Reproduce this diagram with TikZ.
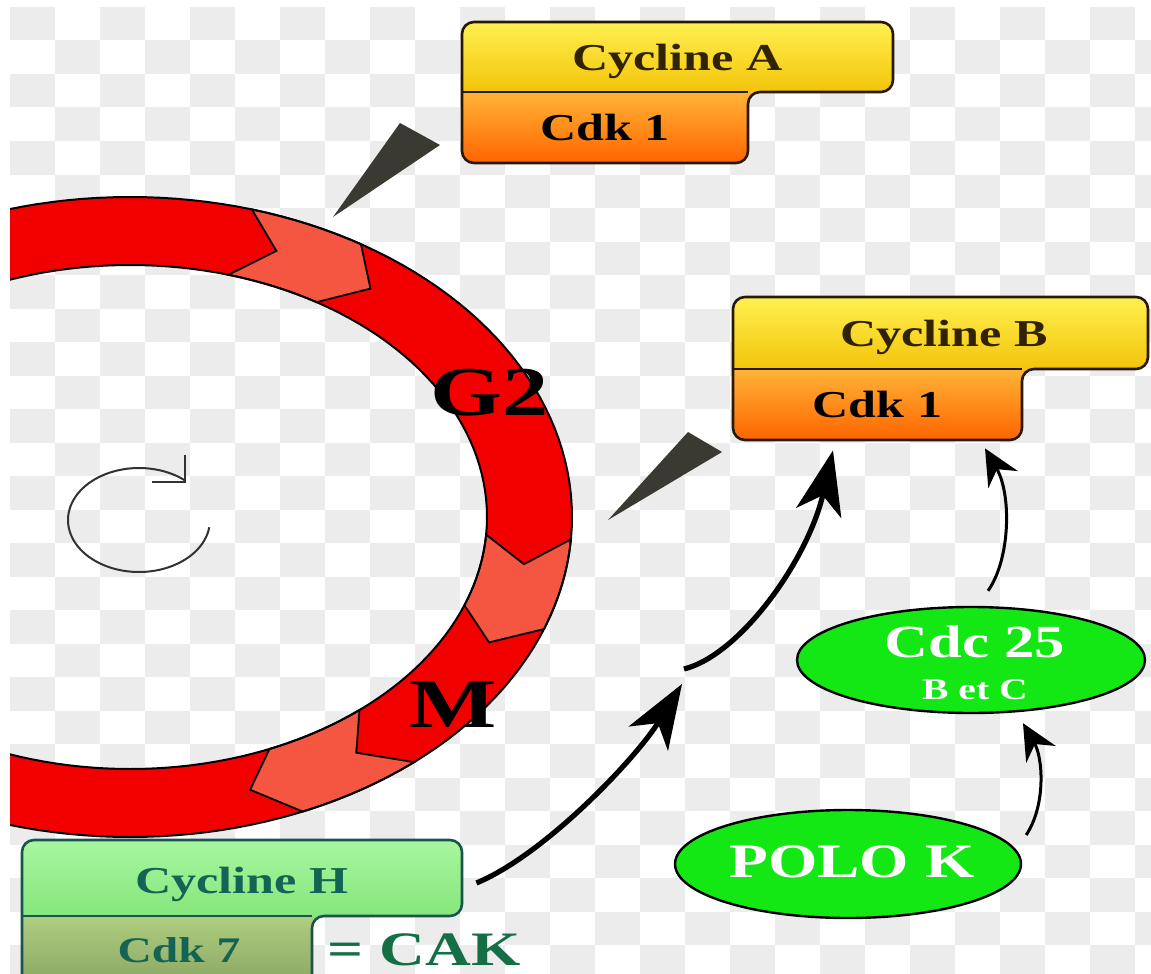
\documentclass[tikz,border=0pt]{standalone}
\usepackage{fontspec}
\usetikzlibrary{arrows.meta,shapes.geometric,calc}
\newfontfamily\wf[FakeStretch=1.32]{Liberation Serif}
\definecolor{ringred}{RGB}{242,0,0}
\definecolor{seglight}{RGB}{244,86,66}
\definecolor{checkgray}{RGB}{236,236,236}
\definecolor{yelTop}{RGB}{255,240,80}
\definecolor{yelBot}{RGB}{243,196,10}
\definecolor{orTop}{RGB}{255,180,55}
\definecolor{orBot}{RGB}{255,100,0}
\definecolor{boxline}{RGB}{40,25,5}
\definecolor{wedgecol}{RGB}{58,58,50}
\definecolor{hTop}{RGB}{168,246,160}
\definecolor{hBot}{RGB}{134,230,124}
\definecolor{kTop}{RGB}{176,206,128}
\definecolor{kBot}{RGB}{128,158,90}
\definecolor{hline}{RGB}{25,85,75}
\definecolor{htext}{RGB}{20,100,85}
\definecolor{caktext}{RGB}{20,110,70}
\definecolor{polygreen}{RGB}{20,232,20}
\definecolor{rotgray}{RGB}{50,50,50}
\definecolor{atext}{RGB}{50,35,0}
\newcommand\lightseg[2]{%
  \filldraw[fill=seglight, draw=black, line width=0.9pt]
    plot[domain=#1:#2, samples=15] ({130+442*cos(\x)},{517-320*sin(\x)})
    -- ({130+399.5*cos(#2-5.5)},{517-286*sin(#2-5.5)})
    -- plot[domain=#2:#1, samples=15] ({130+357*cos(\x)},{517-252*sin(\x)})
    -- ({130+399.5*cos(#1-5.5)},{517-286*sin(#1-5.5)}) -- cycle;}
\begin{document}
\begin{tikzpicture}[x=0.5pt,y=-0.5pt,
  lbl/.style={inner sep=0, text depth=0pt, font=\wf\bfseries\fontsize{19}{19}\selectfont},
  boxedge/.style={draw=boxline, line width=1.3pt},
  bigarrow/.style={line width=2.6pt, -{Stealth[length=32pt,width=23pt,inset=9pt]}},
  thinarrow/.style={line width=1.5pt, -{Stealth[length=18pt,width=17pt,inset=6pt]}},
  greenell/.style={ellipse, draw=black, line width=1.2pt, fill=polygreen, inner sep=0},
  whitetxt/.style={text=white, inner sep=0, text depth=0pt},
  phase/.style={inner sep=0, font=\wf\bfseries\fontsize{35}{35}\selectfont}]
\useasboundingbox (0,0) rectangle (1151,974);
\fill[white] (0,0) rectangle (1151,974);
% checkerboard background
\foreach \i in {0,2,...,24}{\foreach \j in {0,2,...,28}{
  \fill[checkgray] ({10+45*\i},{7+33.5*\j}) rectangle +(45,33.5);
  \fill[checkgray] ({10+45*(\i+1)},{7+33.5*(\j+1)}) rectangle +(45,33.5);}}
% ring
\begin{scope}
\clip (10,7) rectangle (1151,974);
\fill[ringred, even odd rule]
  plot[domain=0:360, samples=181] ({130+442*cos(\x)},{517-320*sin(\x)}) -- cycle
  plot[domain=0:360, samples=181] ({130+357*cos(\x)},{517-252*sin(\x)}) -- cycle;
\lightseg{74}{58.5}
\lightseg{-4}{-20.5}
\lightseg{-50}{-67}
\draw[line width=1pt] plot[domain=0:360, samples=181] ({130+442*cos(\x)},{517-320*sin(\x)}) -- cycle;
\draw[line width=1pt] plot[domain=0:360, samples=181] ({130+357*cos(\x)},{517-252*sin(\x)}) -- cycle;
\end{scope}
% rotation symbol
\draw[rotgray, line width=1pt] plot[domain=-8:-310, samples=80] ({139+71*cos(\x)},{520-52*sin(\x)});
\draw[rotgray, line width=1.2pt] (152,482) -- (185,482) -- (185,455);
% phase labels
\node[phase] (g2lbl) at (490,393) {G2};
\node[phase] (mlbl) at (453,705) {M};
% pointer wedges
\fill[wedgecol] (333,217) -- (400,123) -- (440,145) -- cycle;
\fill[wedgecol] (608,520) -- (688,432) -- (722,452) -- cycle;
% box A
\begin{scope}
\clip[rounded corners=6pt] (462,60) -- (462,22) -- (893,22) -- (893,92) -- (748,92) -- (748,163) -- (462,163) -- cycle;
\shade[top color=orTop, bottom color=orBot] (462,92) rectangle (893,163);
\shade[top color=yelTop, bottom color=yelBot] (462,22) rectangle (893,92);
\end{scope}
\draw[boxedge, rounded corners=6pt] (462,60) -- (462,22) -- (893,22) -- (893,92) -- (748,92) -- (748,163) -- (462,163) -- cycle;
\draw[boxedge] (462,92) -- (748,92);
\node[lbl, text=atext, minimum width=215.5pt, minimum height=35pt] (cycA) at (677.5,57) {Cycline A};
\node[lbl, text=black, minimum width=143pt, minimum height=35.5pt] (cdkA) at (605,127.5) {Cdk 1};
% box B
\begin{scope}
\clip[rounded corners=6pt] (733,330) -- (733,297) -- (1148,297) -- (1148,369) -- (1022,369) -- (1022,440) -- (733,440) -- cycle;
\shade[top color=orTop, bottom color=orBot] (733,369) rectangle (1148,440);
\shade[top color=yelTop, bottom color=yelBot] (733,297) rectangle (1148,369);
\end{scope}
\draw[boxedge, rounded corners=6pt] (733,330) -- (733,297) -- (1148,297) -- (1148,369) -- (1022,369) -- (1022,440) -- (733,440) -- cycle;
\draw[boxedge] (733,369) -- (1022,369);
\node[lbl, text=atext, minimum width=207.5pt, minimum height=36pt] (cycB) at (944,333) {Cycline B};
\node[lbl, text=black, minimum width=144.5pt, minimum height=35.5pt] (cdkB) at (877.5,404.5) {Cdk 1};
% box H
\begin{scope}
\clip (0,0) rectangle (1151,974);
\begin{scope}
\clip[rounded corners=6pt] (22,880) -- (22,840) -- (462,840) -- (462,916) -- (312,916) -- (312,1000) -- (22,1000) -- cycle;
\shade[top color=kTop, bottom color=kBot] (22,916) rectangle (462,1000);
\shade[top color=hTop, bottom color=hBot] (22,840) rectangle (462,916);
\end{scope}
\draw[draw=hline, line width=1.3pt, rounded corners=6pt] (22,880) -- (22,840) -- (462,840) -- (462,916) -- (312,916) -- (312,1000) -- (22,1000) -- cycle;
\draw[draw=hline, line width=1.3pt] (22,916) -- (312,916);
\end{scope}
\node[lbl, text=htext, minimum width=220pt, minimum height=38pt] (cycH) at (242,880) {Cycline H};
\node[lbl, text=htext, font=\wf\bfseries\fontsize{18}{18}\selectfont] (cdk7) at (179,950) {Cdk 7};
\node[lbl, text=caktext, font=\wf\bfseries\fontsize{24}{24}\selectfont] (cak) at (424,950) {= CAK};
% green ellipses
\node[greenell, minimum width=174pt, minimum height=53pt] (cdc) at (971,660) {};
\node[whitetxt, font=\wf\bfseries\fontsize{23}{23}\selectfont] (cdcT) at (975,642) {Cdc 25};
\node[whitetxt, font=\wf\bfseries\fontsize{15}{15}\selectfont] (cdcS) at (975,690) {B et C};
\node[greenell, minimum width=173pt, minimum height=54pt] (polo) at (848,864) {};
\node[whitetxt, font=\wf\bfseries\fontsize{24}{24}\selectfont] (poloT) at (852,862) {POLO K};
% connectors
\coordinate (gapA) at (682,684);
\coordinate (gapB) at (684,669);
\draw[bigarrow] ($(cycH.east)+(14,3)$) .. controls (546,854) and (637,757) .. (gapA);
\draw[bigarrow] (gapB) .. controls (740,655) and (808,560) .. ($(cdkB.south)+(-44.5,10)$);
\draw[thinarrow] ($(cdc.north)+(17,-15)$) .. controls (1010,560) and (1012,495) .. ($(cdkB.south)+(107.5,8)$);
\draw[thinarrow] ($(polo.east)+(4,-29)$) .. controls (1046,805) and (1043,758) .. ($(cdc.south)+(52,9)$);
\end{tikzpicture}
\end{document}
